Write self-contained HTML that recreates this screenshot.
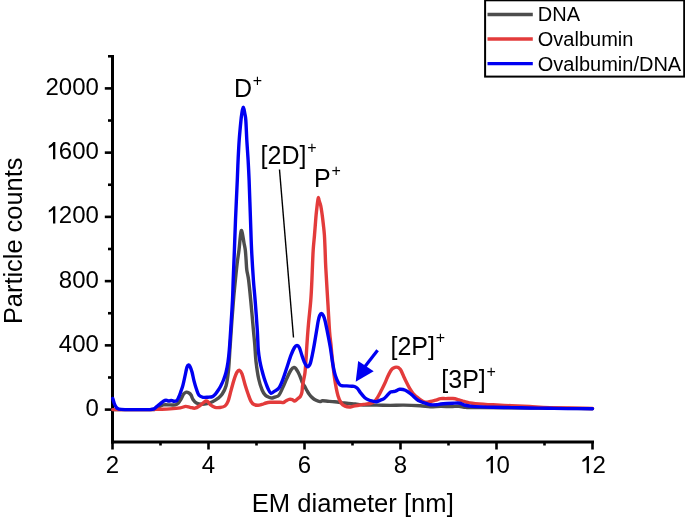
<!DOCTYPE html>
<html><head><meta charset="utf-8"><style>
html,body{margin:0;padding:0;background:#fff;}
body{width:685px;height:521px;overflow:hidden;}
svg{display:block;will-change:transform;}
</style></head><body>
<svg width="685" height="521" viewBox="0 0 685 521">
<rect width="685" height="521" fill="#fff"/>
<line x1="279.5" y1="169.5" x2="293.5" y2="337.5" stroke="#000" stroke-width="1.4"/>
<g stroke="#0000f2" fill="#0000f2">
<line x1="377.6" y1="350.3" x2="365" y2="366.5" stroke-width="3.2"/>
<polygon points="355.7,381.7 358.2,361.0 373.7,371.3" stroke="none"/>
</g>
<g stroke="#000" stroke-width="2.6" fill="none">
<line x1="112.5" y1="55" x2="112.5" y2="443.5" stroke-width="3"/>
<line x1="111" y1="442.1" x2="594" y2="442.1" stroke-width="3"/>
<line x1="104.8" y1="409.60" x2="112" y2="409.60"/><line x1="104.8" y1="345.36" x2="112" y2="345.36"/><line x1="104.8" y1="281.12" x2="112" y2="281.12"/><line x1="104.8" y1="216.88" x2="112" y2="216.88"/><line x1="104.8" y1="152.64" x2="112" y2="152.64"/><line x1="104.8" y1="88.40" x2="112" y2="88.40"/><line x1="108" y1="377.48" x2="112" y2="377.48"/><line x1="108" y1="313.24" x2="112" y2="313.24"/><line x1="108" y1="249.00" x2="112" y2="249.00"/><line x1="108" y1="184.76" x2="112" y2="184.76"/><line x1="108" y1="120.52" x2="112" y2="120.52"/><line x1="108" y1="56.28" x2="112" y2="56.28"/><line x1="112.50" y1="442" x2="112.50" y2="449.5"/><line x1="208.50" y1="442" x2="208.50" y2="449.5"/><line x1="304.50" y1="442" x2="304.50" y2="449.5"/><line x1="400.50" y1="442" x2="400.50" y2="449.5"/><line x1="496.50" y1="442" x2="496.50" y2="449.5"/><line x1="592.50" y1="442" x2="592.50" y2="449.5"/><line x1="160.50" y1="442" x2="160.50" y2="445.5"/><line x1="256.50" y1="442" x2="256.50" y2="445.5"/><line x1="352.50" y1="442" x2="352.50" y2="445.5"/><line x1="448.50" y1="442" x2="448.50" y2="445.5"/><line x1="544.50" y1="442" x2="544.50" y2="445.5"/>
</g>
<g fill="none" stroke-linejoin="round" stroke-linecap="round" stroke-width="3.4">
<path stroke="#4d4d4d" d="M112.80,409.60 C119.00,409.60 143.13,409.63 150.00,409.60 C156.87,409.57 152.55,409.85 154.00,409.40 C155.45,408.95 157.13,407.65 158.70,406.90 C160.27,406.15 161.48,405.23 163.40,404.90 C165.32,404.57 168.18,404.90 170.20,404.90 C172.22,404.90 174.17,405.18 175.50,404.90 C176.83,404.62 177.30,404.10 178.20,403.20 C179.10,402.30 180.00,401.02 180.90,399.50 C181.80,397.98 182.70,395.33 183.60,394.10 C184.50,392.87 185.40,392.28 186.30,392.10 C187.20,391.92 188.22,392.52 189.00,393.00 C189.78,393.48 190.33,393.92 191.00,395.00 C191.67,396.08 192.10,398.17 193.00,399.50 C193.90,400.83 194.93,402.22 196.40,403.00 C197.87,403.78 200.00,404.12 201.80,404.20 C203.60,404.28 205.42,403.92 207.20,403.50 C208.98,403.08 210.72,402.55 212.50,401.70 C214.28,400.85 216.32,399.63 217.90,398.40 C219.48,397.17 220.65,396.37 222.00,394.30 C223.35,392.23 224.92,389.97 226.00,386.00 C227.08,382.03 227.85,376.50 228.50,370.50 C229.15,364.50 229.38,357.58 229.90,350.00 C230.42,342.42 231.00,333.33 231.60,325.00 C232.20,316.67 232.87,307.50 233.50,300.00 C234.13,292.50 234.78,286.17 235.40,280.00 C236.02,273.83 236.60,268.00 237.20,263.00 C237.80,258.00 238.48,254.33 239.00,250.00 C239.52,245.67 239.92,240.25 240.30,237.00 C240.68,233.75 240.93,231.00 241.30,230.50 C241.67,230.00 242.05,231.92 242.50,234.00 C242.95,236.08 243.53,240.33 244.00,243.00 C244.47,245.67 244.95,247.17 245.30,250.00 C245.65,252.83 245.85,256.67 246.10,260.00 C246.35,263.33 246.38,266.67 246.80,270.00 C247.22,273.33 247.95,275.00 248.60,280.00 C249.25,285.00 249.90,291.67 250.70,300.00 C251.50,308.33 252.72,322.50 253.40,330.00 C254.08,337.50 254.37,339.75 254.80,345.00 C255.23,350.25 255.35,355.83 256.00,361.50 C256.65,367.17 257.68,374.25 258.70,379.00 C259.72,383.75 260.98,387.28 262.10,390.00 C263.22,392.72 264.17,394.05 265.40,395.30 C266.63,396.55 268.37,397.05 269.50,397.50 C270.63,397.95 271.20,398.12 272.20,398.00 C273.20,397.88 274.38,397.25 275.50,396.80 C276.62,396.35 277.67,396.87 278.90,395.30 C280.13,393.73 281.55,390.28 282.90,387.40 C284.25,384.52 285.65,380.90 287.00,378.00 C288.35,375.10 289.80,371.77 291.00,370.00 C292.20,368.23 293.37,367.60 294.20,367.40 C295.03,367.20 295.37,368.03 296.00,368.80 C296.63,369.57 297.28,370.63 298.00,372.00 C298.72,373.37 299.58,375.25 300.30,377.00 C301.02,378.75 301.58,380.98 302.30,382.50 C303.02,384.02 303.83,384.77 304.60,386.10 C305.37,387.43 306.13,389.13 306.90,390.50 C307.67,391.87 308.32,393.12 309.20,394.30 C310.08,395.48 311.05,396.60 312.20,397.60 C313.35,398.60 314.80,399.63 316.10,400.30 C317.40,400.97 318.93,401.52 320.00,401.60 C321.07,401.68 321.22,400.87 322.50,400.80 C323.78,400.73 325.68,401.03 327.70,401.20 C329.72,401.37 332.30,401.57 334.60,401.80 C336.90,402.03 339.20,402.32 341.50,402.60 C343.80,402.88 346.10,403.27 348.40,403.50 C350.70,403.73 352.80,403.73 355.30,404.00 C357.80,404.27 359.80,404.92 363.40,405.10 C367.00,405.28 372.42,405.05 376.90,405.10 C381.38,405.15 385.83,405.40 390.30,405.40 C394.77,405.40 398.72,405.03 403.70,405.10 C408.68,405.17 415.75,405.52 420.20,405.80 C424.65,406.08 426.98,406.72 430.40,406.80 C433.82,406.88 437.28,406.33 440.70,406.30 C444.12,406.27 447.85,406.60 450.90,406.60 C453.95,406.60 456.45,406.18 459.00,406.30 C461.55,406.42 462.70,407.08 466.20,407.30 C469.70,407.52 458.95,407.38 480.00,407.60 C501.05,407.82 573.75,408.43 592.50,408.60"/>
<path stroke="#e33b3b" d="M112.80,409.60 C119.00,409.60 142.47,409.65 150.00,409.60 C157.53,409.55 154.67,409.42 158.00,409.30 C161.33,409.18 166.28,409.13 170.00,408.90 C173.72,408.67 177.70,408.32 180.30,407.90 C182.90,407.48 183.98,406.50 185.60,406.40 C187.22,406.30 188.43,407.00 190.00,407.30 C191.57,407.60 193.33,408.50 195.00,408.20 C196.67,407.90 198.67,406.37 200.00,405.50 C201.33,404.63 202.00,403.75 203.00,403.00 C204.00,402.25 205.17,401.20 206.00,401.00 C206.83,400.80 207.33,401.22 208.00,401.80 C208.67,402.38 208.83,403.58 210.00,404.50 C211.17,405.42 213.33,406.80 215.00,407.30 C216.67,407.80 218.33,407.72 220.00,407.50 C221.67,407.28 223.67,407.02 225.00,406.00 C226.33,404.98 227.00,403.97 228.00,401.40 C229.00,398.83 230.00,394.18 231.00,390.60 C232.00,387.02 233.00,382.97 234.00,379.90 C235.00,376.83 236.08,373.80 237.00,372.20 C237.92,370.60 238.67,370.03 239.50,370.30 C240.33,370.57 241.08,371.43 242.00,373.80 C242.92,376.17 244.00,381.18 245.00,384.50 C246.00,387.82 247.00,390.88 248.00,393.70 C249.00,396.52 250.00,399.58 251.00,401.40 C252.00,403.22 252.83,403.95 254.00,404.60 C255.17,405.25 256.67,405.33 258.00,405.30 C259.33,405.27 260.67,404.78 262.00,404.40 C263.33,404.02 264.67,403.35 266.00,403.00 C267.33,402.65 268.67,402.42 270.00,402.30 C271.33,402.18 272.33,402.32 274.00,402.30 C275.67,402.28 278.48,402.15 280.00,402.20 C281.52,402.25 282.08,402.85 283.10,402.60 C284.12,402.35 285.08,401.25 286.10,400.70 C287.12,400.15 288.17,399.48 289.20,399.30 C290.23,399.12 291.40,399.30 292.30,399.60 C293.20,399.90 293.70,401.23 294.60,401.10 C295.50,400.97 296.75,399.57 297.70,398.80 C298.65,398.03 299.60,397.58 300.30,396.50 C301.00,395.42 301.52,394.15 301.90,392.30 C302.28,390.45 302.28,387.58 302.60,385.40 C302.92,383.22 303.40,381.35 303.80,379.20 C304.20,377.05 304.63,375.70 305.00,372.50 C305.37,369.30 305.68,364.58 306.00,360.00 C306.32,355.42 306.50,350.83 306.90,345.00 C307.30,339.17 307.75,332.50 308.40,325.00 C309.05,317.50 310.22,307.50 310.80,300.00 C311.38,292.50 311.62,285.83 311.90,280.00 C312.18,274.17 312.28,270.00 312.50,265.00 C312.72,260.00 312.87,255.00 313.20,250.00 C313.53,245.00 314.15,239.17 314.50,235.00 C314.85,230.83 315.03,228.33 315.30,225.00 C315.57,221.67 315.78,218.33 316.10,215.00 C316.42,211.67 316.92,207.42 317.20,205.00 C317.48,202.58 317.60,201.77 317.80,200.50 C318.00,199.23 318.18,197.40 318.40,197.40 C318.62,197.40 318.72,199.15 319.10,200.50 C319.48,201.85 320.18,203.08 320.70,205.50 C321.22,207.92 321.75,211.75 322.20,215.00 C322.65,218.25 323.03,221.67 323.40,225.00 C323.77,228.33 324.12,230.83 324.40,235.00 C324.68,239.17 324.87,244.50 325.10,250.00 C325.33,255.50 325.32,258.83 325.80,268.00 C326.28,277.17 327.37,294.33 328.00,305.00 C328.63,315.67 329.10,325.33 329.60,332.00 C330.10,338.67 330.60,341.00 331.00,345.00 C331.40,349.00 331.40,350.43 332.00,356.00 C332.60,361.57 333.60,371.78 334.60,378.40 C335.60,385.02 336.85,391.52 338.00,395.70 C339.15,399.88 340.33,401.77 341.50,403.50 C342.67,405.23 343.70,405.52 345.00,406.10 C346.30,406.68 347.87,407.00 349.30,407.00 C350.73,407.00 352.02,406.40 353.60,406.10 C355.18,405.80 357.17,405.48 358.80,405.20 C360.43,404.92 361.50,404.68 363.40,404.40 C365.30,404.12 368.40,403.95 370.20,403.50 C372.00,403.05 373.15,402.45 374.20,401.70 C375.25,400.95 375.73,400.07 376.50,399.00 C377.27,397.93 377.97,396.80 378.80,395.30 C379.63,393.80 380.53,391.92 381.50,390.00 C382.47,388.08 383.63,385.88 384.60,383.80 C385.57,381.72 386.43,379.42 387.30,377.50 C388.17,375.58 388.97,373.75 389.80,372.30 C390.63,370.85 391.43,369.63 392.30,368.80 C393.17,367.97 394.08,367.53 395.00,367.30 C395.92,367.07 397.03,367.18 397.80,367.40 C398.57,367.62 399.05,368.07 399.60,368.60 C400.15,369.13 400.43,369.33 401.10,370.60 C401.77,371.87 402.77,374.37 403.60,376.20 C404.43,378.03 405.12,379.60 406.10,381.60 C407.08,383.60 408.37,386.27 409.50,388.20 C410.63,390.13 411.77,391.80 412.90,393.20 C414.03,394.60 415.18,395.60 416.30,396.60 C417.42,397.60 418.65,398.50 419.60,399.20 C420.55,399.90 421.05,400.30 422.00,400.80 C422.95,401.30 423.90,402.08 425.30,402.20 C426.70,402.32 428.70,401.83 430.40,401.50 C432.10,401.17 433.78,400.68 435.50,400.20 C437.22,399.72 438.98,398.87 440.70,398.60 C442.42,398.33 443.77,398.62 445.80,398.60 C447.83,398.58 450.70,398.30 452.90,398.50 C455.10,398.70 457.12,399.32 459.00,399.80 C460.88,400.28 462.48,400.90 464.20,401.40 C465.92,401.90 467.43,402.43 469.30,402.80 C471.17,403.17 471.42,403.27 475.40,403.60 C479.38,403.93 487.18,404.45 493.20,404.80 C499.22,405.15 505.42,405.42 511.50,405.70 C517.58,405.98 523.28,406.18 529.70,406.50 C536.12,406.82 539.53,407.27 550.00,407.60 C560.47,407.93 585.42,408.35 592.50,408.50"/>
<path stroke="#0000f2" d="M112.80,398.50 C113.05,399.33 113.72,402.03 114.30,403.50 C114.88,404.97 115.52,406.37 116.30,407.30 C117.08,408.23 117.55,408.72 119.00,409.10 C120.45,409.48 121.50,409.52 125.00,409.60 C128.50,409.68 135.83,409.60 140.00,409.60 C144.17,409.60 147.67,409.72 150.00,409.60 C152.33,409.48 152.88,409.40 154.00,408.90 C155.12,408.40 155.68,407.43 156.70,406.60 C157.72,405.77 158.98,404.80 160.10,403.90 C161.22,403.00 162.40,401.82 163.40,401.20 C164.40,400.58 165.20,400.23 166.10,400.20 C167.00,400.17 167.90,400.95 168.80,401.00 C169.70,401.05 170.60,400.45 171.50,400.50 C172.40,400.55 173.30,401.30 174.20,401.30 C175.10,401.30 176.12,401.25 176.90,400.50 C177.68,399.75 178.23,398.32 178.90,396.80 C179.57,395.28 180.23,393.30 180.90,391.40 C181.57,389.50 182.22,387.97 182.90,385.40 C183.58,382.83 184.32,379.07 185.00,376.00 C185.68,372.93 186.42,368.83 187.00,367.00 C187.58,365.17 188.00,365.08 188.50,365.00 C189.00,364.92 189.42,365.33 190.00,366.50 C190.58,367.67 191.33,369.60 192.00,372.00 C192.67,374.40 193.27,378.07 194.00,380.90 C194.73,383.73 195.57,386.60 196.40,389.00 C197.23,391.40 197.90,393.92 199.00,395.30 C200.10,396.68 201.50,396.98 203.00,397.30 C204.50,397.62 206.42,397.32 208.00,397.20 C209.58,397.08 211.30,397.08 212.50,396.60 C213.70,396.12 214.28,395.32 215.20,394.30 C216.12,393.28 217.10,391.85 218.00,390.50 C218.90,389.15 219.68,387.95 220.60,386.20 C221.52,384.45 222.60,382.28 223.50,380.00 C224.40,377.72 225.25,375.50 226.00,372.50 C226.75,369.50 227.45,365.75 228.00,362.00 C228.55,358.25 228.80,356.17 229.30,350.00 C229.80,343.83 230.47,333.33 231.00,325.00 C231.53,316.67 232.13,307.50 232.50,300.00 C232.87,292.50 232.88,288.33 233.20,280.00 C233.52,271.67 234.02,260.00 234.40,250.00 C234.78,240.00 235.02,231.67 235.50,220.00 C235.98,208.33 236.87,190.00 237.30,180.00 C237.73,170.00 237.78,166.67 238.10,160.00 C238.42,153.33 238.72,146.67 239.20,140.00 C239.68,133.33 240.55,124.50 241.00,120.00 C241.45,115.50 241.63,114.80 241.90,113.00 C242.17,111.20 242.37,110.17 242.60,109.20 C242.83,108.23 243.07,107.20 243.30,107.20 C243.53,107.20 243.77,108.23 244.00,109.20 C244.23,110.17 244.40,111.20 244.70,113.00 C245.00,114.80 245.45,115.50 245.80,120.00 C246.15,124.50 246.42,133.33 246.80,140.00 C247.18,146.67 247.72,153.33 248.10,160.00 C248.48,166.67 248.70,170.00 249.10,180.00 C249.50,190.00 250.08,208.33 250.50,220.00 C250.92,231.67 251.12,240.00 251.60,250.00 C252.08,260.00 252.82,271.67 253.40,280.00 C253.98,288.33 254.45,291.67 255.10,300.00 C255.75,308.33 256.77,321.67 257.30,330.00 C257.83,338.33 257.85,344.68 258.30,350.00 C258.75,355.32 259.38,358.48 260.00,361.90 C260.62,365.32 261.32,367.82 262.00,370.50 C262.68,373.18 263.43,375.83 264.10,378.00 C264.77,380.17 265.33,381.70 266.00,383.50 C266.67,385.30 267.30,387.18 268.10,388.80 C268.90,390.42 269.78,392.77 270.80,393.20 C271.82,393.63 272.85,392.25 274.20,391.40 C275.55,390.55 277.45,390.12 278.90,388.10 C280.35,386.08 281.55,382.78 282.90,379.30 C284.25,375.82 285.65,371.22 287.00,367.20 C288.35,363.18 289.75,358.48 291.00,355.20 C292.25,351.92 293.50,349.12 294.50,347.50 C295.50,345.88 296.18,345.47 297.00,345.50 C297.82,345.53 298.60,346.12 299.40,347.70 C300.20,349.28 301.00,352.67 301.80,355.00 C302.60,357.33 303.40,359.87 304.20,361.70 C305.00,363.53 305.88,365.20 306.60,366.00 C307.32,366.80 307.87,366.98 308.50,366.50 C309.13,366.02 309.77,365.02 310.40,363.10 C311.03,361.18 311.65,358.12 312.30,355.00 C312.95,351.88 313.57,348.57 314.30,344.40 C315.03,340.23 316.05,333.90 316.70,330.00 C317.35,326.10 317.70,323.42 318.20,321.00 C318.70,318.58 319.17,316.75 319.70,315.50 C320.23,314.25 320.80,313.50 321.40,313.50 C322.00,313.50 322.70,314.33 323.30,315.50 C323.90,316.67 324.38,318.08 325.00,320.50 C325.62,322.92 326.12,325.53 327.00,330.00 C327.88,334.47 329.32,341.53 330.30,347.30 C331.28,353.07 332.05,359.85 332.90,364.60 C333.75,369.35 334.40,372.63 335.40,375.80 C336.40,378.97 337.88,381.95 338.90,383.60 C339.92,385.25 340.20,385.32 341.50,385.70 C342.80,386.08 344.97,385.82 346.70,385.90 C348.43,385.98 350.60,386.10 351.90,386.20 C353.20,386.30 353.58,386.15 354.50,386.50 C355.42,386.85 356.37,387.22 357.40,388.30 C358.43,389.38 359.47,391.43 360.70,393.00 C361.93,394.57 363.45,396.53 364.80,397.70 C366.15,398.87 367.47,399.43 368.80,400.00 C370.13,400.57 371.57,400.80 372.80,401.10 C374.03,401.40 375.00,401.92 376.20,401.80 C377.40,401.68 378.70,400.92 380.00,400.40 C381.30,399.88 382.83,399.50 384.00,398.70 C385.17,397.90 385.95,396.68 387.00,395.60 C388.05,394.52 389.30,392.87 390.30,392.20 C391.30,391.53 392.13,391.78 393.00,391.60 C393.87,391.42 394.40,391.48 395.50,391.10 C396.60,390.72 397.97,389.45 399.60,389.30 C401.23,389.15 403.38,389.38 405.30,390.20 C407.22,391.02 409.18,392.67 411.10,394.20 C413.02,395.73 415.23,398.18 416.80,399.40 C418.37,400.62 419.08,400.87 420.50,401.50 C421.92,402.13 423.65,402.67 425.30,403.20 C426.95,403.73 428.52,404.45 430.40,404.70 C432.28,404.95 434.88,404.82 436.60,404.70 C438.32,404.58 439.00,404.20 440.70,404.00 C442.40,403.80 444.77,403.63 446.80,403.50 C448.83,403.37 450.68,403.25 452.90,403.20 C455.12,403.15 458.22,402.90 460.10,403.20 C461.98,403.50 462.67,404.53 464.20,405.00 C465.73,405.47 467.43,405.73 469.30,406.00 C471.17,406.27 471.42,406.40 475.40,406.60 C479.38,406.80 487.18,407.03 493.20,407.20 C499.22,407.37 505.42,407.47 511.50,407.60 C517.58,407.73 523.62,407.88 529.70,408.00 C535.78,408.12 541.92,408.20 548.00,408.30 C554.08,408.40 558.78,408.53 566.20,408.60 C573.62,408.67 588.12,408.68 592.50,408.70"/>
</g>
<g font-family="Liberation Sans" font-size="24" fill="#000">
<text x="85.55" y="416.20">0</text><text x="58.86" y="351.96">4</text><text x="72.20" y="351.96">0</text><text x="85.55" y="351.96">0</text><text x="58.86" y="287.72">8</text><text x="72.20" y="287.72">0</text><text x="85.55" y="287.72">0</text><path transform="translate(45.51,223.48)" d="M9.8,0 L7.5,0 L7.5,-13.7 Q5.8,-12.2 3.3,-11.1 L3.3,-13.3 Q6.2,-14.8 7.9,-17.3 L9.8,-17.3 Z"/><text x="58.86" y="223.48">2</text><text x="72.20" y="223.48">0</text><text x="85.55" y="223.48">0</text><path transform="translate(45.51,159.24)" d="M9.8,0 L7.5,0 L7.5,-13.7 Q5.8,-12.2 3.3,-11.1 L3.3,-13.3 Q6.2,-14.8 7.9,-17.3 L9.8,-17.3 Z"/><text x="58.86" y="159.24">6</text><text x="72.20" y="159.24">0</text><text x="85.55" y="159.24">0</text><text x="45.51" y="95.00">2</text><text x="58.86" y="95.00">0</text><text x="72.20" y="95.00">0</text><text x="85.55" y="95.00">0</text>
<text x="105.83" y="473.20">2</text><text x="201.83" y="473.20">4</text><text x="297.83" y="473.20">6</text><text x="393.83" y="473.20">8</text><path transform="translate(483.15,473.20)" d="M9.8,0 L7.5,0 L7.5,-13.7 Q5.8,-12.2 3.3,-11.1 L3.3,-13.3 Q6.2,-14.8 7.9,-17.3 L9.8,-17.3 Z"/><text x="496.50" y="473.20">0</text><path transform="translate(579.15,473.20)" d="M9.8,0 L7.5,0 L7.5,-13.7 Q5.8,-12.2 3.3,-11.1 L3.3,-13.3 Q6.2,-14.8 7.9,-17.3 L9.8,-17.3 Z"/><text x="592.50" y="473.20">2</text>
</g>
<text font-family="Liberation Sans" font-size="25.6" x="251.8" y="512.4" fill="#000">EM diameter [nm]</text>
<text font-family="Liberation Sans" font-size="25.4" transform="translate(22.2,324.1) rotate(-90)" fill="#000">Particle counts</text>
<g font-family="Liberation Sans" font-size="25" fill="#000">
<text x="234" y="97">D<tspan font-size="16" dx="0.8" dy="-11.3">+</tspan></text>
<text x="260.6" y="164.2">[2D]<tspan font-size="16" dx="0.8" dy="-11.3">+</tspan></text>
<text x="314" y="187.3">P<tspan font-size="16" dx="0.8" dy="-11.3">+</tspan></text>
<text x="390.5" y="354.6">[2P]<tspan font-size="16" dx="0.8" dy="-11.3">+</tspan></text>
<text x="441.3" y="388.2">[3P]<tspan font-size="16" dx="0.8" dy="-11.3">+</tspan></text>
</g>
<rect x="485.1" y="0.3" width="199.1" height="76.3" fill="#fff" stroke="#000" stroke-width="2"/>
<g stroke-width="3.3">
<line x1="487.5" y1="14.5" x2="532.8" y2="14.5" stroke="#4d4d4d"/>
<line x1="487.5" y1="39" x2="532.8" y2="39" stroke="#e33b3b"/>
<line x1="487.5" y1="63.7" x2="532.8" y2="63.7" stroke="#0000f2"/>
</g>
<g font-family="Liberation Sans" font-size="20" fill="#000">
<text x="537.8" y="21">DNA</text>
<text x="537.8" y="45.9">Ovalbumin</text>
<text x="537.8" y="70.6">Ovalbumin/DNA</text>
</g>
</svg>
</body></html>
